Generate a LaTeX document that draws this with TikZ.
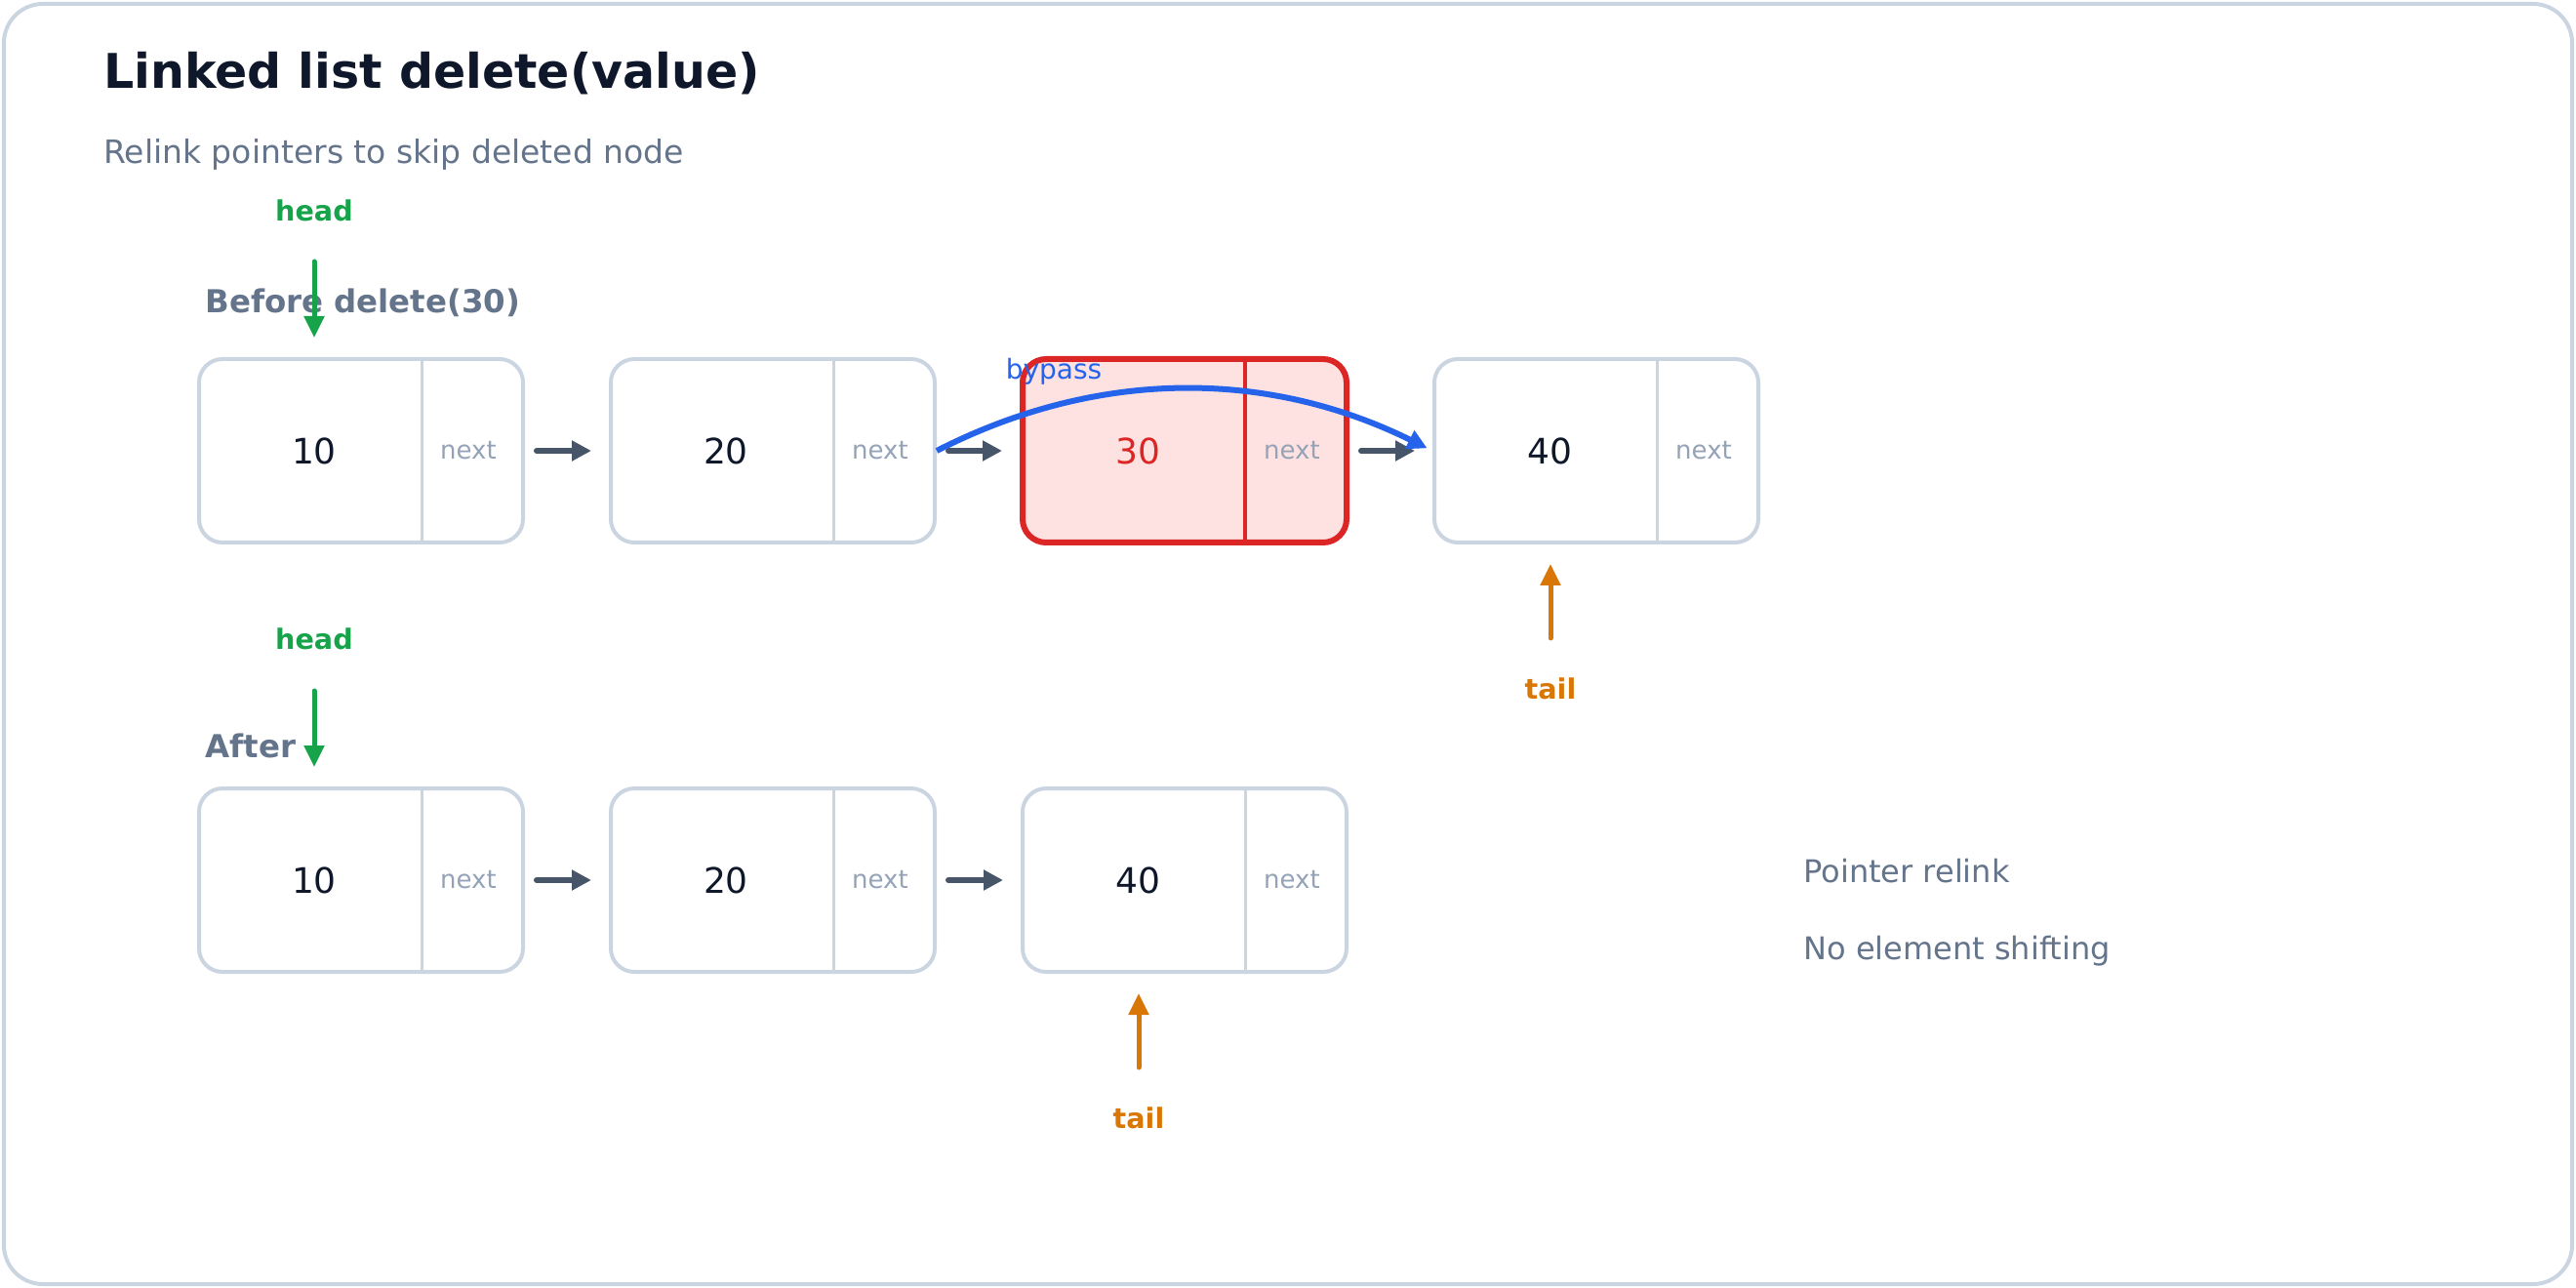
\documentclass[tikz,border=0pt]{standalone}
\usepackage{fontspec}
\setmainfont{DejaVu Sans}
\usetikzlibrary{arrows.meta}
\definecolor{ink}{HTML}{0F172A}
\definecolor{muted}{HTML}{64748B}
\definecolor{cellline}{HTML}{CBD5E1}
\definecolor{nextgray}{HTML}{94A3B8}
\definecolor{linkgray}{HTML}{475569}
\definecolor{headgreen}{HTML}{16A34A}
\definecolor{tailorange}{HTML}{D97706}
\definecolor{bypassblue}{HTML}{2563EB}
\definecolor{delred}{HTML}{DC2626}
\definecolor{delfill}{HTML}{FEE2E2}
\newcommand{\pxfont}[1]{\fontsize{#1}{#1}\selectfont}
\begin{document}
\begin{tikzpicture}[x=1pt, y=-1pt,
    cell/.style={draw=cellline, line width=2pt, rounded corners=12pt, fill=white,
        minimum width=166pt, minimum height=94pt, inner sep=0pt},
    gone/.style={cell, draw=delred, fill=delfill, line width=3pt},
    val/.style={font=\pxfont{18}, text=ink, inner sep=0pt},
    nxt/.style={font=\pxfont{13}, text=nextgray, inner sep=0pt},
    txt/.style={inner sep=0pt, anchor=base west},
    link/.style={-{Triangle[length=10pt,width=10pt]}, line width=3pt, linkgray,
        line cap=round, shorten <=6pt, shorten >=9pt},
    ptr/.style={-{Triangle[length=11pt,width=10pt]}, line width=2.5pt, line cap=round},
    headtxt/.style={font=\pxfont{14.3}\bfseries, text=headgreen, inner sep=0pt, anchor=base},
    tailtxt/.style={font=\pxfont{14.3}\bfseries, text=tailorange, inner sep=0pt, anchor=base}]
    \useasboundingbox (0,0) rectangle (1320,660);
    \draw[cellline, line width=2pt, rounded corners=20pt] (2,2) rectangle (1318,658);

    \node[txt, font=\pxfont{24.5}\bfseries, text=ink] (title) at (53,45.5) {Linked list delete(value)};
    \node[txt, font=\pxfont{16.5}, text=muted] (subtitle) at (53,84) {Relink pointers to skip deleted node};

    % before
    \node[txt, font=\pxfont{16.2}\bfseries, text=muted] (before) at (105,160.5) {Before delete(30)};
    \node[cell] (t10) at (185,231) {};
    \node[cell] (t20) at (396,231) {};
    \node[gone] (t30) at (607,231) {};
    \node[cell] (t40) at (818,231) {};
    \draw[cellline, line width=1.5pt] ([xshift=31pt,yshift=-2pt]t10.north) -- ([xshift=31pt,yshift=2pt]t10.south);
    \draw[cellline, line width=1.5pt] ([xshift=31pt,yshift=-2pt]t20.north) -- ([xshift=31pt,yshift=2pt]t20.south);
    \draw[delred, line width=2pt] ([xshift=31pt,yshift=-2.5pt]t30.north) -- ([xshift=31pt,yshift=2.5pt]t30.south);
    \draw[cellline, line width=1.5pt] ([xshift=31pt,yshift=-2pt]t40.north) -- ([xshift=31pt,yshift=2pt]t40.south);
    \node[val] (t10v) at ([xshift=-24pt]t10.center) {10};
    \node[val] (t20v) at ([xshift=-24pt]t20.center) {20};
    \node[val, text=delred] (t30v) at ([xshift=-24pt]t30.center) {30};
    \node[val] (t40v) at ([xshift=-24pt]t40.center) {40};
    \node[nxt] (t10n) at ([xshift=55pt]t10.center) {next};
    \node[nxt] (t20n) at ([xshift=55pt]t20.center) {next};
    \node[nxt] (t30n) at ([xshift=55pt]t30.center) {next};
    \node[nxt] (t40n) at ([xshift=55pt]t40.center) {next};
    \draw[link] (t10) -- (t20);
    \draw[link] (t20) -- (t30);
    \draw[link] (t30) -- (t40);
    \draw[-{Triangle[length=10pt,width=10pt]}, line width=3pt, bypassblue, shorten >=3pt]
        (t20.east) .. controls +(82,-42) and +(-85,-42) .. (t40.west);
    \node[font=\pxfont{14}, text=bypassblue, inner sep=0pt, anchor=base] (bypass) at (540,194.5) {bypass};

    \node[headtxt] (h1) at (161,113.5) {head};
    \coordinate (h1s) at (161,134);
    \draw[ptr, headgreen, shorten >=10pt] (h1s) -- (h1s |- t10.north);
    \coordinate (tl1s) at (794.5,327);
    \draw[ptr, tailorange, shorten >=10pt] (tl1s) -- (tl1s |- t40.south);
    \node[tailtxt] (tl1) at (794.5,358.5) {tail};

    % after
    \node[txt, font=\pxfont{16.2}\bfseries, text=muted] (after) at (105,388) {After};
    \node[cell] (a10) at (185,451) {};
    \node[cell] (a20) at (396,451) {};
    \node[cell] (a40) at (607,451) {};
    \draw[cellline, line width=1.5pt] ([xshift=31pt,yshift=-2pt]a10.north) -- ([xshift=31pt,yshift=2pt]a10.south);
    \draw[cellline, line width=1.5pt] ([xshift=31pt,yshift=-2pt]a20.north) -- ([xshift=31pt,yshift=2pt]a20.south);
    \draw[cellline, line width=1.5pt] ([xshift=31pt,yshift=-2pt]a40.north) -- ([xshift=31pt,yshift=2pt]a40.south);
    \node[val] (a10v) at ([xshift=-24pt]a10.center) {10};
    \node[val] (a20v) at ([xshift=-24pt]a20.center) {20};
    \node[val] (a40v) at ([xshift=-24pt]a40.center) {40};
    \node[nxt] (a10n) at ([xshift=55pt]a10.center) {next};
    \node[nxt] (a20n) at ([xshift=55pt]a20.center) {next};
    \node[nxt] (a40n) at ([xshift=55pt]a40.center) {next};
    \draw[link] (a10) -- (a20);
    \draw[link] (a20) -- (a40);

    \node[headtxt] (h2) at (161,333) {head};
    \coordinate (h2s) at (161,354);
    \draw[ptr, headgreen, shorten >=10pt] (h2s) -- (h2s |- a10.north);
    \coordinate (tl2s) at (583.5,547);
    \draw[ptr, tailorange, shorten >=10pt] (tl2s) -- (tl2s |- a40.south);
    \node[tailtxt] (tl2) at (583.5,578) {tail};

    \node[txt, font=\pxfont{16}, text=muted] (note1) at (924,452) {Pointer relink};
    \node[txt, font=\pxfont{16}, text=muted] (note2) at (924,491.5) {No element shifting};
\end{tikzpicture}
\end{document}
